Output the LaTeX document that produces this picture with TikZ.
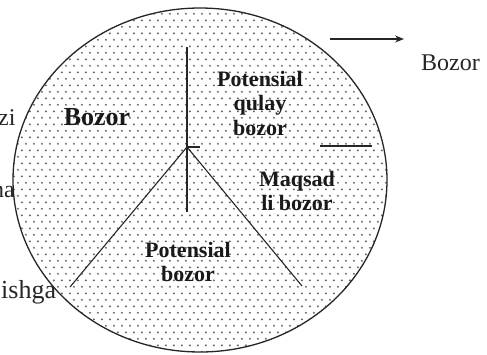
\documentclass[tikz,border=0pt]{standalone}
\usepackage{fontspec}
\setmainfont{Liberation Serif}
\usetikzlibrary{patterns,arrows.meta}
\pgfdeclarepatternformonly{mydots}{\pgfqpoint{0pt}{0pt}}{\pgfqpoint{8.4pt}{13.4pt}}{\pgfqpoint{8.4pt}{13.4pt}}{%
  \pgfpathcircle{\pgfqpoint{2.1pt}{3.35pt}}{1.1pt}%
  \pgfpathcircle{\pgfqpoint{6.3pt}{10.05pt}}{1.1pt}%
  \pgfusepath{fill}}
\begin{document}
\begin{tikzpicture}[x=1pt,y=-1pt,
  outer/.style={inner sep=0pt,font=\fontsize{24}{26}\selectfont,text=black!85},
  inlabel/.style={inner sep=0pt,align=center,font=\bfseries\fontsize{22}{24.5}\selectfont,text=black!90},
  divider/.style={line width=1.1pt,black!85},
  disc/.style={draw=black!85,line width=1.3pt,pattern=mydots,pattern color=black!60}]
\useasboundingbox (0,0) rectangle (487,354);
\clip (0,0) rectangle (487,354);
% partly hidden outer texts
\node[outer,anchor=base west] (zi) at (-2,125) {zi};
\node[outer,anchor=base west] (na) at (-8,197) {na};
\node[outer,anchor=base west,font=\fontsize{26}{28}\selectfont] (ishga) at (1,298) {ishga};
% disc
\fill[white] (200,180) ellipse [x radius=187, y radius=172];
\path[disc] (200,180) ellipse [x radius=187, y radius=172];
% dividers
\coordinate (c) at (187,147);
\coordinate (top) at (187,47);
\coordinate (bot) at (187,212);
\coordinate (ll) at (70,287);
\coordinate (lr) at (302,286);
\coordinate (tick) at (200,147);
\coordinate (h1) at (320,146);
\coordinate (h2) at (372,146);
\draw[divider] (top) -- (bot);
\draw[divider] (c) -- (ll);
\draw[divider] (c) -- (lr);
\draw[divider] (c) -- (tick);
\draw[divider] (h1) -- (h2);
% labels
\node[inlabel,font=\bfseries\fontsize{26}{28}\selectfont,anchor=base] (b) at (97,125) {Bozor};
\node[inlabel] (pq) at (260,103) {Potensial\\qulay\\bozor};
\node[inlabel] (mb) at (297,191) {Maqsad\\li bozor};
\node[inlabel] (pb) at (188,262) {Potensial\\bozor};
% arrow and right label
\coordinate (a1) at (330,39);
\coordinate (a2) at (404,39);
\draw[line width=1.1pt,black!85,-{Stealth[length=9pt,width=7pt]}] (a1) -- (a2);
\node[outer,anchor=base west] (rb) at (421,70) {Bozor};
\end{tikzpicture}
\end{document}
